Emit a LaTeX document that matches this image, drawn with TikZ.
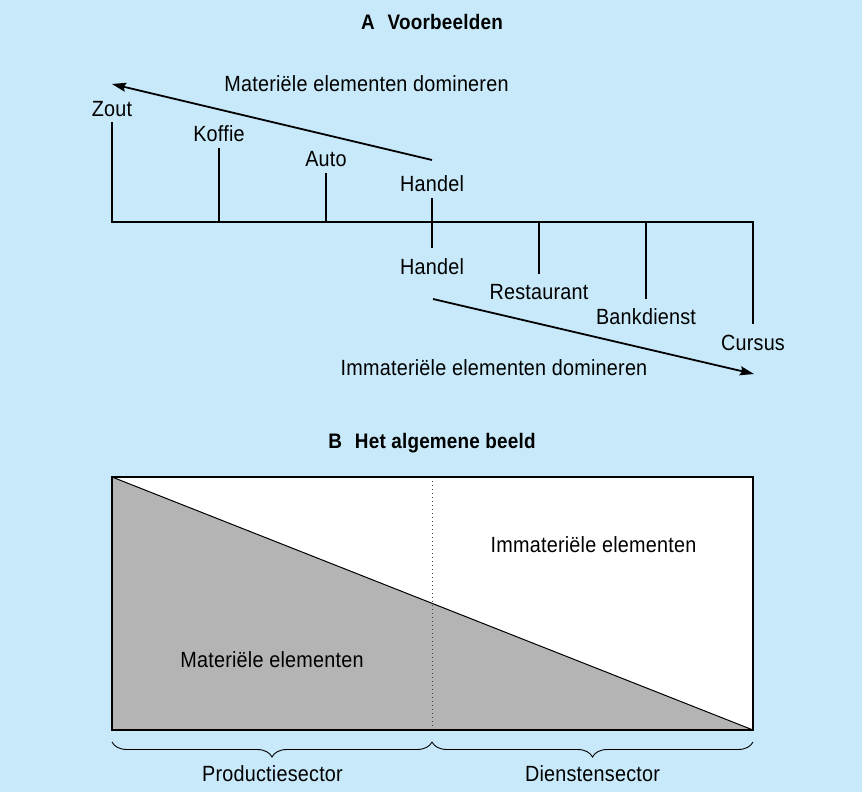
\documentclass[tikz,border=0pt]{standalone}
\usepackage{fontspec}
\setmainfont{Liberation Sans}[LetterSpace=1,FakeStretch=0.9]
\usetikzlibrary{arrows.meta,decorations.pathreplacing}
\definecolor{panelblue}{RGB}{199,233,249}
\definecolor{solidgray}{RGB}{180,180,180}
\begin{document}
\begin{tikzpicture}[x=1pt,y=-1pt,
  lbl/.style={anchor=base,inner sep=0pt,font=\fontsize{22}{26}\selectfont},
  head/.style={anchor=base,inner sep=0pt,font=\fontsize{21}{25}\selectfont\bfseries},
  tick/.style={line width=2pt},
  trend/.style={line width=1.8pt,-{Stealth[length=14pt,width=9pt,inset=2pt]}},
  brc/.style={decorate,decoration={brace,mirror,amplitude=15pt},line width=0.9pt}]
  % background panel
  \fill[panelblue] (0,0) rectangle (862,792);
  \useasboundingbox (0,0) rectangle (862,792);

  % ---------- part A ----------
  \node[head] (headA) at (432,30) {A\hspace{13pt}Voorbeelden};

  % scale line with its end markers
  \coordinate (zoutTop) at (112,122);
  \coordinate (leftEnd) at (112,222);
  \coordinate (rightEnd) at (753,222);
  \coordinate (cursusBot) at (753,324);
  \draw[tick,line join=miter] (zoutTop) -- (leftEnd) -- (rightEnd) -- (cursusBot);

  % markers above the line
  \coordinate (koffieTop) at (219,148);  \coordinate (koffieFoot) at (219,222);
  \coordinate (autoTop) at (326,173);    \coordinate (autoFoot) at (326,222);
  \coordinate (handelTop) at (432,198);  \coordinate (handelBot) at (432,248);
  \draw[tick] (koffieTop) -- (koffieFoot);
  \draw[tick] (autoTop) -- (autoFoot);
  \draw[tick] (handelTop) -- (handelBot);

  % markers below the line
  \coordinate (restFoot) at (539,222);   \coordinate (restBot) at (539,274);
  \coordinate (bankFoot) at (646,222);   \coordinate (bankBot) at (646,299);
  \draw[tick] (restFoot) -- (restBot);
  \draw[tick] (bankFoot) -- (bankBot);

  % labels
  \node[lbl] (zout) at (112,116) {Zout};
  \node[lbl] (koffie) at (219,141) {Koffie};
  \node[lbl] (auto) at (326,166.5) {Auto};
  \node[lbl] (handelA) at (432,191.5) {Handel};
  \node[lbl] (handelB) at (432,274) {Handel};
  \node[lbl] (restaurant) at (539,299.5) {Restaurant};
  \node[lbl] (bankdienst) at (646,324.5) {Bankdienst};
  \node[lbl] (cursus) at (753,350) {Cursus};

  % trend arrows
  \coordinate (upStart) at (432,160);
  \coordinate (upTip) at (112,84);
  \draw[trend] (upStart) -- (upTip);
  \node[lbl] (matDom) at (366.5,91.5) {Materiële elementen domineren};

  \coordinate (downStart) at (433,299);
  \coordinate (downTip) at (754,374);
  \draw[trend] (downStart) -- (downTip);
  \node[lbl] (immatDom) at (494,375) {Immateriële elementen domineren};

  % ---------- part B ----------
  \node[head] (headB) at (432,448) {B\hspace{13pt}Het algemene beeld};

  \coordinate (bTL) at (112,477);
  \coordinate (bTR) at (753,477);
  \coordinate (bBR) at (753,730);
  \coordinate (bBL) at (112,730);
  \fill[white] (bTL) rectangle (bBR);
  \fill[solidgray] (bTL) -- (bBR) -- (bBL) -- cycle;
  \draw[line width=1pt] (bTL) -- (bBR);
  \coordinate (midTop) at (432,477);
  \coordinate (midBot) at (432,730);
  \draw[line width=1pt,black!75,dash pattern=on 1pt off 3pt] (midTop) -- (midBot);
  \draw[line width=1.6pt] (bTL) rectangle (bBR);

  \node[lbl] (immat) at (593.5,552) {Immateriële elementen};
  \node[lbl] (mat) at (272,667) {Materiële elementen};

  % sector braces
  \coordinate (brL) at (112,742);
  \coordinate (brM) at (432,742);
  \coordinate (brR) at (753,742);
  \draw[brc] (brL) -- (brM);
  \draw[brc] (brM) -- (brR);
  \node[lbl] (prod) at (272.5,781) {Productiesector};
  \node[lbl] (dienst) at (592.5,781) {Dienstensector};
\end{tikzpicture}
\end{document}
